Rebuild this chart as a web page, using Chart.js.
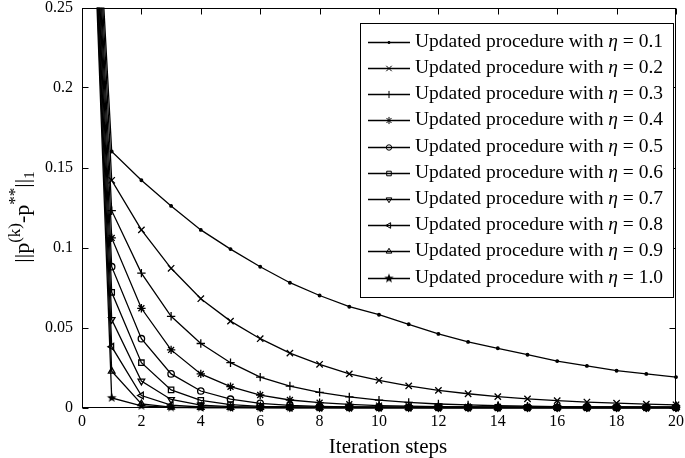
<!DOCTYPE html>
<html>
<head>
<meta charset="utf-8">
<script src="https://cdn.jsdelivr.net/npm/chart.js@4.4.1/dist/chart.umd.min.js"></script>
<style>
  html, body { margin: 0; padding: 0; background: #fff; }
  #wrap { width: 685px; height: 458px; }
</style>
</head>
<body>
<div id="wrap"><canvas id="errChart" width="685" height="458"></canvas></div>
<script>
// iteration steps k = 0..20
const steps = [0, 1, 2, 3, 4, 5, 6, 7, 8, 9, 10, 11, 12, 13, 14, 15, 16, 17, 18, 19, 20];

// ||p(k) - p**||_1, one array per eta
const eta01 = [0.5, 0.160, 0.142, 0.126, 0.111, 0.099, 0.088, 0.078, 0.070, 0.063, 0.058, 0.052, 0.046, 0.041, 0.037, 0.033, 0.029, 0.026, 0.023, 0.021, 0.019];
const eta02 = [0.5, 0.142, 0.111, 0.087, 0.068, 0.054, 0.043, 0.034, 0.027, 0.021, 0.017, 0.0135, 0.0107, 0.0086, 0.0068, 0.0054, 0.0043, 0.0034, 0.0027, 0.0021, 0.0017];
const eta03 = [0.5, 0.123, 0.084, 0.057, 0.040, 0.028, 0.019, 0.0134, 0.0095, 0.0066, 0.0046, 0.0032, 0.0022, 0.0016, 0.0011, 0.0008, 0.0005, 0.0004, 0.0003, 0.0002, 0.0001];
const eta04 = [0.5, 0.106, 0.062, 0.036, 0.021, 0.013, 0.0078, 0.0047, 0.003, 0.002, 0.0012, 0.0008, 0.0005, 0.0003, 0.0002, 0.0001, 0.0001, 0, 0, 0, 0];
const eta05 = [0.5, 0.088, 0.043, 0.021, 0.0103, 0.0052, 0.0026, 0.0013, 0.0007, 0.0003, 0.0002, 0.0001, 0, 0, 0, 0, 0, 0, 0, 0, 0];
const eta06 = [0.5, 0.072, 0.028, 0.011, 0.0045, 0.0018, 0.0007, 0.0003, 0.0001, 0, 0, 0, 0, 0, 0, 0, 0, 0, 0, 0, 0];
const eta07 = [0.5, 0.055, 0.0165, 0.005, 0.0015, 0.0005, 0.0001, 0, 0, 0, 0, 0, 0, 0, 0, 0, 0, 0, 0, 0, 0];
const eta08 = [0.5, 0.038, 0.0075, 0.0015, 0.0003, 0.0001, 0, 0, 0, 0, 0, 0, 0, 0, 0, 0, 0, 0, 0, 0, 0];
const eta09 = [0.5, 0.0227, 0.0023, 0.0002, 0, 0, 0, 0, 0, 0, 0, 0, 0, 0, 0, 0, 0, 0, 0, 0, 0];
const eta10 = [0.5, 0.006, 0.001, 0, 0, 0, 0, 0, 0, 0, 0, 0, 0, 0, 0, 0, 0, 0, 0, 0, 0];

const etaValues = ["0.1", "0.2", "0.3", "0.4", "0.5", "0.6", "0.7", "0.8", "0.9", "1.0"];
const seriesList = [eta01, eta02, eta03, eta04, eta05, eta06, eta07, eta08, eta09, eta10];

const xTicks = [0, 2, 4, 6, 8, 10, 12, 14, 16, 18, 20];
const yTicks = [0, 0.05, 0.1, 0.15, 0.2, 0.25];
const yTickLabels = ["0", "0.05", "0.1", "0.15", "0.2", "0.25"];

const SERIF = "'Liberation Serif', 'DejaVu Serif', serif";
const LW = 1.3;

// MATLAB 'p' marker (pentagram) as a small canvas
function makePentagram(r) {
  const c = document.createElement("canvas");
  const s = Math.ceil(r * 2 + 2);
  c.width = s;
  c.height = s;
  const g = c.getContext("2d");
  g.beginPath();
  for (let i = 0; i < 10; i++) {
    const rad = i % 2 === 0 ? r : r * 0.42;
    const a = -Math.PI / 2 + (i * Math.PI) / 5;
    const px = s / 2 + rad * Math.cos(a);
    const py = s / 2 + rad * Math.sin(a);
    if (i === 0) g.moveTo(px, py);
    else g.lineTo(px, py);
  }
  g.closePath();
  g.fillStyle = "#000";
  g.fill();
  return c;
}

// . x + * o s v < ^ p
const markers = [
  { style: "circle", radius: 1.3, fill: "#000", rotation: 0 },
  { style: "crossRot", radius: 4.5, fill: "rgba(0,0,0,0)", rotation: 0 },
  { style: "cross", radius: 4.2, fill: "rgba(0,0,0,0)", rotation: 0 },
  { style: "star", radius: 4.2, fill: "rgba(0,0,0,0)", rotation: 0 },
  { style: "circle", radius: 3.2, fill: "rgba(0,0,0,0)", rotation: 0 },
  { style: "rect", radius: 3.8, fill: "rgba(0,0,0,0)", rotation: 0 },
  { style: "triangle", radius: 3.8, fill: "rgba(0,0,0,0)", rotation: 180 },
  { style: "triangle", radius: 3.8, fill: "rgba(0,0,0,0)", rotation: 270 },
  { style: "triangle", radius: 3.8, fill: "rgba(0,0,0,0)", rotation: 0 },
  { style: makePentagram(5), radius: 5, fill: "#000", rotation: 0 },
];

const datasets = seriesList.map((vals, i) => ({
  label: "Updated procedure with η = " + etaValues[i],
  data: steps.map((k, j) => ({ x: k, y: vals[j] })),
  borderColor: "#000",
  borderWidth: LW,
  pointStyle: markers[i].style,
  pointRadius: markers[i].radius,
  pointRotation: markers[i].rotation,
  pointBorderColor: "#000",
  pointBackgroundColor: markers[i].fill,
  pointBorderWidth: LW,
  fill: false,
  tension: 0,
  clip: { left: 0, top: 0, right: 8, bottom: 8 },
}));

// box, inward ticks, axis titles and legend
const decorPlugin = {
  id: "decor",
  afterDraw(chart) {
    const ctx = chart.ctx;
    const { left, right, top, bottom } = chart.chartArea;
    const xs = chart.scales.x;
    const ys = chart.scales.y;
    const L = Math.round(left) + 0.5, R = Math.round(right) - 0.5;
    const T = Math.round(top) + 0.5, B = Math.round(bottom) - 0.5;

    ctx.save();
    ctx.strokeStyle = "#000";
    ctx.lineWidth = 1;
    ctx.strokeRect(L, T, R - L, B - T);
    ctx.beginPath();
    xTicks.forEach((v) => {
      const px = Math.round(xs.getPixelForValue(v)) + 0.5;
      ctx.moveTo(px, B); ctx.lineTo(px, B - 6);
      ctx.moveTo(px, T); ctx.lineTo(px, T + 6);
    });
    yTicks.forEach((v) => {
      const py = Math.round(ys.getPixelForValue(v)) + 0.5;
      ctx.moveTo(L, py); ctx.lineTo(L + 6, py);
      ctx.moveTo(R, py); ctx.lineTo(R - 6, py);
    });
    ctx.stroke();

    // x title
    ctx.fillStyle = "#000";
    ctx.font = "21px " + SERIF;
    ctx.textAlign = "center";
    ctx.textBaseline = "alphabetic";
    ctx.fillText("Iteration steps", 388, 453);

    // y title ||p^(k)-p^**||_1
    const parts = [
      { t: "||", size: 22, dy: 0 },
      { t: "p", size: 22, dy: 0 },
      { t: "(k)", size: 17, dy: -9 },
      { t: "-p", size: 22, dy: 0 },
      { t: "**", size: 17, dy: -9 },
      { t: "||", size: 22, dy: 0 },
      { t: "1", size: 15, dy: 5 },
    ];
    let total = 0;
    parts.forEach((p) => {
      ctx.font = p.size + "px " + SERIF;
      p.w = ctx.measureText(p.t).width;
      total += p.w;
    });
    ctx.translate(29, 217);
    ctx.rotate(-Math.PI / 2);
    ctx.textAlign = "left";
    let cx = -total / 2;
    parts.forEach((p) => {
      ctx.font = p.size + "px " + SERIF;
      ctx.fillText(p.t, cx, p.dy);
      cx += p.w;
    });
    ctx.restore();

    // legend
    ctx.save();
    const bx = 360.5, by = 23.5, bw = 313, bh = 274;
    ctx.fillStyle = "#fff";
    ctx.fillRect(bx, by, bw, bh);
    ctx.strokeStyle = "#000";
    ctx.lineWidth = 1;
    ctx.strokeRect(bx, by, bw, bh);
    const fs = 19.5;
    chart.data.datasets.forEach((ds, i) => {
      const ry = 41.7 + i * 26.2;
      const ly = Math.round(ry) + 0.5;
      ctx.beginPath();
      ctx.moveTo(368, ly);
      ctx.lineTo(410, ly);
      ctx.strokeStyle = "#000";
      ctx.lineWidth = LW;
      ctx.stroke();
      ctx.fillStyle = markers[i].fill;
      ctx.lineWidth = 1;
      Chart.helpers.drawPoint(ctx, {
        pointStyle: markers[i].style,
        radius: markers[i].radius * 0.85,
        rotation: markers[i].rotation,
        borderWidth: 1,
      }, 389, ly);

      ctx.fillStyle = "#000";
      ctx.textBaseline = "middle";
      ctx.textAlign = "left";
      let tx = 415;
      const a = "Updated procedure with ";
      const b = "η";
      const c = " = " + etaValues[i];
      ctx.font = fs + "px " + SERIF;
      ctx.fillText(a, tx, ry);
      tx += ctx.measureText(a).width;
      ctx.font = "italic " + fs + "px " + SERIF;
      ctx.fillText(b, tx, ry);
      tx += ctx.measureText(b).width;
      ctx.font = fs + "px " + SERIF;
      ctx.fillText(c, tx, ry);
    });
    ctx.restore();
  },
};

const ctx = document.getElementById("errChart").getContext("2d");
const errChart = new Chart(ctx, {
  type: "line",
  data: { datasets: datasets },
  options: {
    responsive: false,
    animation: false,
    events: [],
    layout: { padding: { top: 7.5, right: 9, left: 0, bottom: 0 } },
    plugins: {
      legend: { display: false },
      tooltip: { enabled: false },
    },
    scales: {
      x: {
        type: "linear",
        min: 0,
        max: 20,
        afterBuildTicks: (s) => { s.ticks = xTicks.map((v) => ({ value: v })); },
        afterFit: (s) => {
          s.height = 50.5;
          s.paddingLeft = 0;
          s.paddingRight = 0;
        },
        grid: { display: false, drawTicks: false },
        border: { display: false },
        ticks: {
          color: "#000",
          font: { family: SERIF, size: 16 },
          padding: 5,
          maxRotation: 0,
          autoSkip: false,
        },
      },
      y: {
        type: "linear",
        min: 0,
        max: 0.25,
        afterBuildTicks: (s) => { s.ticks = yTicks.map((v) => ({ value: v })); },
        afterFit: (s) => {
          s.width = 82;
          s.paddingTop = 0;
          s.paddingBottom = 0;
        },
        grid: { display: false, drawTicks: false },
        border: { display: false },
        ticks: {
          color: "#000",
          font: { family: SERIF, size: 16 },
          padding: 9,
          autoSkip: false,
          callback: (v) => {
            const i = yTicks.findIndex((t) => Math.abs(t - v) < 1e-9);
            return i >= 0 ? yTickLabels[i] : "";
          },
        },
      },
    },
  },
  plugins: [decorPlugin],
});
</script>
</body>
</html>
